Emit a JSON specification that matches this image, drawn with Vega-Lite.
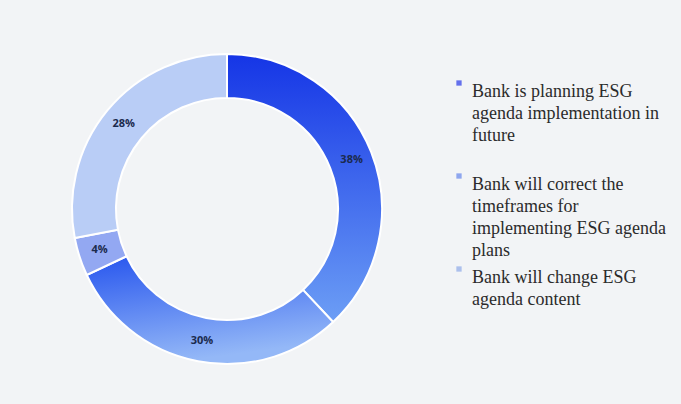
{
  "$schema": "https://vega.github.io/schema/vega-lite/v6.json",
  "width": 454,
  "height": 418,
  "padding": {"left": 0, "top": 0, "right": 30, "bottom": 0},
  "background": "#f2f4f6",
  "config": {
    "view": {"stroke": null},
    "style": {"guide-label": {"lineHeight": 22}}
  },
  "data": {
    "values": [
      {"category": "Bank is planning ESG agenda implementation in future", "value": 38, "order": 1, "label": "38%"},
      {"category": "Bank will correct the timeframes for implementing ESG agenda plans", "value": 30, "order": 2, "label": "30%"},
      {"category": "Other", "value": 4, "order": 3, "label": "4%"},
      {"category": "Bank will change ESG agenda content", "value": 28, "order": 4, "label": "28%"}
    ]
  },
  "encoding": {
    "theta": {"field": "value", "type": "quantitative", "stack": true},
    "order": {"field": "order", "type": "quantitative"}
  },
  "layer": [
    {
      "mark": {"type": "arc", "outerRadius": 155, "innerRadius": 111},
      "encoding": {
        "color": {
          "field": "category",
          "type": "nominal",
          "sort": {"field": "order"},
          "scale": {
            "domain": [
              "Bank is planning ESG agenda implementation in future",
              "Bank will correct the timeframes for implementing ESG agenda plans",
              "Other",
              "Bank will change ESG agenda content"
            ],
            "range": ["#6470ec", "#8ea6ee", "#93a9f2", "#acc0ec"]
          },
          "legend": {
            "orient": "none",
            "legendX": 450,
            "legendY": 74,
            "title": null,
            "values": [
              "Bank is planning ESG agenda implementation in future",
              "Bank will correct the timeframes for implementing ESG agenda plans",
              "Bank will change ESG agenda content"
            ],
            "symbolType": "square",
            "symbolSize": 28,
            "symbolStrokeWidth": 0,
            "labelFont": "Liberation Serif",
            "labelFontSize": 18,
            "labelColor": "#2b2b2b",
            "labelBaseline": "top",
            "labelLimit": 300,
            "labelOffset": 4,
            "rowPadding": -4,
            "labelExpr": "datum.label == 'Bank is planning ESG agenda implementation in future' ? ['Bank is planning ESG', 'agenda implementation in', 'future', ''] : datum.label == 'Bank will correct the timeframes for implementing ESG agenda plans' ? ['Bank will correct the', 'timeframes for', 'implementing ESG agenda', 'plans'] : ['Bank will change ESG', 'agenda content']"
          }
        }
      }
    },
    {
      "mark": {"type": "arc", "outerRadius": 155, "innerRadius": 111, "stroke": "#ffffff", "strokeWidth": 2},
      "encoding": {
        "fill": {
          "condition": [
            {
              "test": "datum.order == 1",
              "value": {"gradient": "linear", "x1": 0, "y1": 0, "x2": 0, "y2": 1, "stops": [{"offset": 0, "color": "#1535e6"}, {"offset": 1, "color": "#6c9ef5"}]}
            },
            {
              "test": "datum.order == 2",
              "value": {"gradient": "linear", "x1": 0, "y1": 0, "x2": 0.3, "y2": 1, "stops": [{"offset": 0, "color": "#2755ee"}, {"offset": 1, "color": "#94b8f7"}]}
            },
            {"test": "datum.order == 3", "value": "#93a8f2"}
          ],
          "value": "#b9cdf6"
        }
      }
    },
    {
      "mark": {"type": "text", "radius": 134, "font": "Open Sans", "fontWeight": "bold", "fontSize": 11, "fill": "#1b2a4e"},
      "encoding": {"text": {"field": "label", "type": "nominal"}}
    }
  ]
}
